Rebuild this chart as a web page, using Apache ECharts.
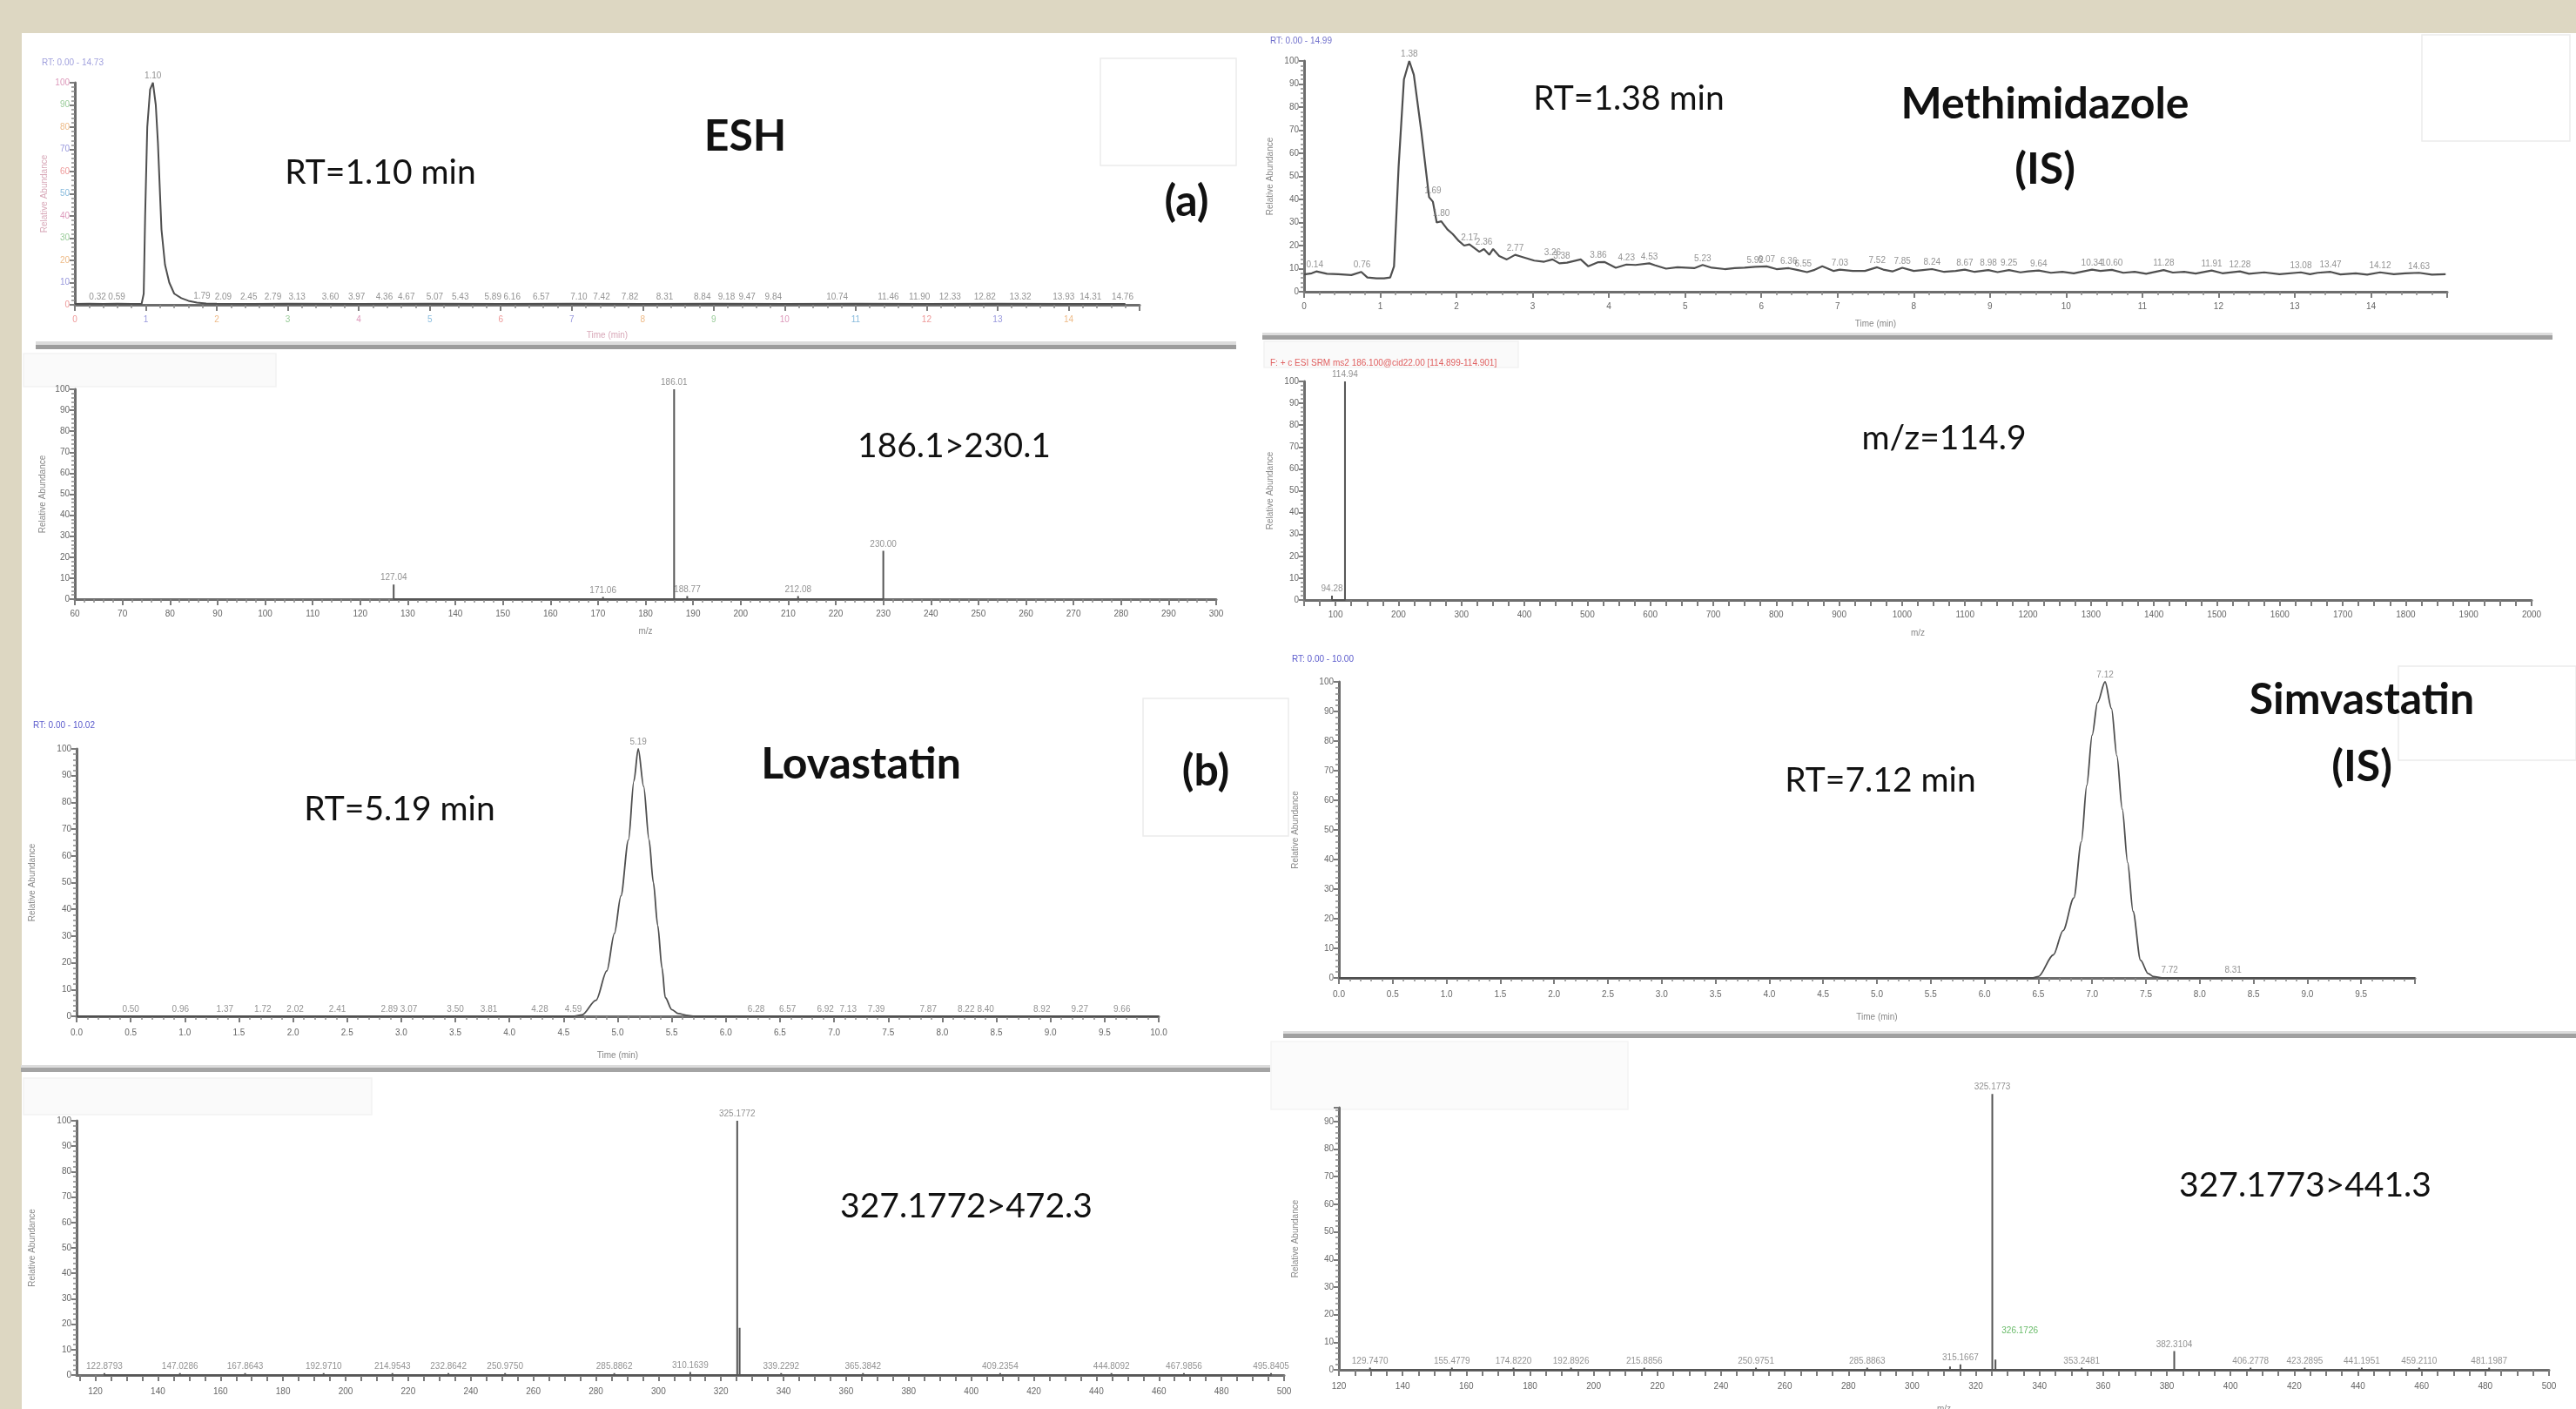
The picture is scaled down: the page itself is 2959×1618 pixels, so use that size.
<!DOCTYPE html>
<html><head><meta charset="utf-8">
<script src="https://cdn.jsdelivr.net/npm/echarts@6/dist/echarts.min.js"></script>
<style>
html,body{margin:0;padding:0;background:#ddd7c2;overflow:hidden;}
#paper{position:absolute;left:25px;top:38px;width:2934px;height:1580px;background:#fff;}
#chart{position:absolute;left:0;top:0;width:2959px;height:1618px;}
</style></head><body><div id="paper"></div><div id="chart"></div>
<script>
// ---------------- DATA ----------------
// (a) ESH chromatogram: [time min, relative abundance %]
const eshTrace = [[0,0.4],[0.2,0.5],[0.4,0.4],[0.6,0.5],[0.8,0.4],[0.94,0.4],[0.97,5],[0.99,40],[1.02,80],[1.06,97],[1.10,100],[1.14,90],[1.17,73],[1.22,34],[1.27,18],[1.33,10],[1.40,5],[1.50,3],[1.60,1.8],[1.72,1],[1.85,0.6],[2.0,0.5],[2.5,0.4],[3,0.5],[4,0.4],[5,0.5],[6,0.4],[7,0.5],[8,0.4],[9,0.5],[10,0.4],[11,0.5],[12,0.4],[13,0.5],[14,0.4],[14.8,0.4]];
const eshLabels = [[0.32,0.4],[0.59,0.5],[1.10,100],[1.79,0.8],[2.09,0.5],[2.45,0.4],[2.79,0.5],[3.13,0.4],[3.60,0.5],[3.97,0.4],[4.36,0.5],[4.67,0.4],[5.07,0.5],[5.43,0.4],[5.89,0.5],[6.16,0.4],[6.57,0.5],[7.10,0.4],[7.42,0.5],[7.82,0.4],[8.31,0.5],[8.84,0.4],[9.18,0.5],[9.47,0.4],[9.84,0.5],[10.74,0.4],[11.46,0.5],[11.90,0.4],[12.33,0.5],[12.82,0.4],[13.32,0.5],[13.93,0.4],[14.31,0.5],[14.76,0.4]];
// Methimidazole (IS) chromatogram
const methTrace = [[0,7.5],[0.1,8],[0.16,8.8],[0.3,7.8],[0.45,7.6],[0.62,7.2],[0.75,8.6],[0.83,6.2],[0.95,5.8],[1.05,5.8],[1.13,6.2],[1.18,11],[1.24,54],[1.31,92],[1.38,100],[1.44,94],[1.54,69],[1.64,41],[1.69,39],[1.74,30],[1.80,30.5],[1.88,27],[1.95,25],[2.03,22],[2.10,20],[2.17,20.5],[2.25,18.5],[2.30,17.3],[2.36,18.5],[2.43,16],[2.48,18.5],[2.56,15.5],[2.66,14],[2.77,16],[2.85,15.2],[3.02,13.5],[3.15,13],[3.26,14],[3.35,12.3],[3.45,12.6],[3.63,14],[3.73,11],[3.86,12.8],[3.94,12.9],[4.09,10.4],[4.23,11.8],[4.35,11.6],[4.53,12.3],[4.6,11.5],[4.75,10],[4.9,10.6],[5.01,10.4],[5.12,10.2],[5.23,11.6],[5.35,10.4],[5.52,9.8],[5.65,10.2],[5.78,10.4],[5.92,10.8],[6.07,11],[6.2,9.8],[6.36,10.2],[6.48,9.4],[6.6,8.5],[6.7,9.5],[6.8,11],[6.95,9],[7.03,9.6],[7.2,9],[7.36,9],[7.52,10.6],[7.6,9.6],[7.72,8.8],[7.85,10.4],[8.0,9],[8.12,9.4],[8.24,9.8],[8.4,8.6],[8.55,9],[8.67,9.6],[8.8,8.6],[8.98,9.4],[9.1,8.5],[9.25,9.4],[9.4,8.4],[9.5,8.8],[9.64,9.2],[9.8,8.2],[9.95,8.6],[10.1,8],[10.34,9.6],[10.45,9],[10.6,9.5],[10.75,8.2],[10.9,8.6],[11.05,7.8],[11.28,9.4],[11.4,8.3],[11.55,8.6],[11.7,7.9],[11.91,9.2],[12.05,8],[12.28,8.8],[12.4,7.8],[12.6,8.4],[12.8,7.6],[13.08,8.4],[13.2,7.6],[13.3,8.2],[13.47,8.6],[13.6,7.5],[13.8,8.0],[13.95,7.4],[14.12,8.4],[14.3,7.6],[14.45,8.0],[14.63,8.2],[14.8,7.4],[14.98,7.6]];
const methLabels = [[0.14,8.8],[0.76,8.6],[1.38,100],[1.69,41],[1.80,31],[2.17,20.5],[2.36,18.5],[2.77,16],[3.26,14],[3.38,12.5],[3.86,12.8],[4.23,11.8],[4.53,12.3],[5.23,11.6],[5.92,10.8],[6.07,11],[6.36,10.2],[6.55,9.2],[7.03,9.6],[7.52,10.6],[7.85,10.4],[8.24,9.8],[8.67,9.6],[8.98,9.4],[9.25,9.4],[9.64,9.2],[10.34,9.6],[10.60,9.5],[11.28,9.4],[11.91,9.2],[12.28,8.8],[13.08,8.4],[13.47,8.6],[14.12,8.4],[14.63,8.2]];
// ESH product-ion spectrum 186.1>230.1: [m/z, %]
const eshSpec = [[127.04,7],[171.06,1],[186.01,100],[188.77,1.5],[212.08,1.5],[230.00,23]];
// Methimidazole spectrum m/z=114.9
const methSpec = [[94.28,2],[114.94,100]];
// (b) Lovastatin chromatogram
const lovaTrace = [[0,0],[1,0],[2,0],[3,0],[4,0],[4.6,0],[4.67,0.5],[4.8,6],[4.9,17],[4.97,31],[5.03,45],[5.1,66],[5.15,88],[5.19,100],[5.24,86],[5.29,66],[5.33,50],[5.37,34],[5.41,18],[5.44,7],[5.5,2.5],[5.56,1],[5.65,0.3],[5.71,0],[7,0],[8,0],[9,0],[10,0]];
const lovaLabels = [[0.50,0],[0.96,0],[1.37,0],[1.72,0],[2.02,0],[2.41,0],[2.89,0],[3.07,0],[3.50,0],[3.81,0],[4.28,0],[4.59,0],[5.19,100],[6.28,0],[6.57,0],[6.92,0],[7.13,0],[7.39,0],[7.87,0],[8.22,0],[8.40,0],[8.92,0],[9.27,0],[9.66,0]];
// Simvastatin (IS) chromatogram
const simvaTrace = [[0,0],[1,0],[2,0],[3,0],[4,0],[5,0],[6,0],[6.45,0],[6.5,0.5],[6.64,7.8],[6.73,16],[6.83,27],[6.9,46],[6.95,65],[7.0,82],[7.05,93],[7.12,100],[7.18,91],[7.23,75],[7.28,57],[7.33,39],[7.38,22.5],[7.45,6],[7.52,1.5],[7.57,0.5],[7.65,0],[8,0],[9,0],[10,0]];
const simvaLabels = [[7.12,100],[7.72,0.4],[8.31,0.4]];
// Lovastatin spectrum 327.1772>472.3
const lovaSpec = [[122.8793,0.8],[147.0286,0.8],[167.8643,0.8],[192.9710,0.8],[214.9543,0.8],[232.8642,0.8],[250.9750,0.8],[285.8862,0.8],[310.1639,1.2],[325.1772,100],[339.2292,0.8],[365.3842,0.8],[409.2354,0.8],[444.8092,0.8],[467.9856,0.8],[495.8405,0.8]];
const lovaExtra = [[325.95,18.6]];
// Simvastatin spectrum 327.1773>441.3
const simvaSpec = [[129.7470,0.8],[155.4779,0.8],[174.8220,0.8],[192.8926,0.8],[215.8856,0.8],[250.9751,0.8],[285.8863,0.8],[315.1667,2],[325.1773,100],[326.1726,3.7],[353.2481,0.8],[382.3104,6.8],[406.2778,0.8],[423.2895,0.8],[441.1951,0.8],[459.2110,0.8],[481.1987,0.8]];
const simvaExtra = [[311.9,1.2]];
// tick labels
const mzTicks4 = [100,200,300,400,500,600,700,800,900,1000,1100,1200,1300,1400,1500,1600,1700,1800,1900,2000];
const mzTicks7 = [120,140,160,180,200,220,240,260,280,300,320,340,360,380,400,420,440,460,480,500];
const mzTicks8 = [120,140,160,180,200,220,240,260,280,300,320,340,360,380,400,420,440,460,480,500];
const abund8 = [0,10,20,30,40,50,60,70,80,90];

// ---------------- HELPERS ----------------
function merge(a,b){const o=Array.isArray(a)?a.slice():Object.assign({},a);for(const k in b){const v=b[k];if(v&&typeof v==='object'&&!Array.isArray(v)&&typeof v!=='function'&&a&&typeof a[k]==='object'&&!Array.isArray(a[k])){o[k]=merge(a[k],v);}else o[k]=v;}return o;}
const FF='Liberation Sans';
const plain=v=>String(v);
const baseAxis={type:'value',splitLine:{show:false},
  axisLine:{show:true,onZero:false,lineStyle:{color:'#6d6d6d',width:3}},
  axisTick:{show:true,length:7,lineStyle:{color:'#7c7c7c',width:2}},
  minorTick:{show:false,length:4,lineStyle:{color:'#8a8a8a',width:1.5}},
  axisLabel:{fontSize:10,color:'#666',margin:9,fontFamily:FF,formatter:plain},
  nameLocation:'middle',nameTextStyle:{fontSize:10,color:'#888',fontFamily:FF}};
function ax(o){return merge(baseAxis,o);}
const pastel=['#e99','#99d','#eb8','#9c9','#d9b','#8bd'];
function yAbund(gi,gap,extra){return ax(merge({gridIndex:gi,min:0,max:100,interval:10,name:'Relative Abundance',nameRotate:90,nameGap:gap,
  minorTick:{show:true,splitNumber:5},axisTick:{length:6},axisLabel:{margin:6}},extra||{}));}
function sticks(peaks){const s=peaks.slice().sort((a,b)=>a[0]-b[0]);const d=[];s.forEach(p=>{d.push([p[0],0],[p[0],p[1]],[p[0],0]);});return d;}
function trace(gi,data,smooth,w){return {type:'line',xAxisIndex:gi,yAxisIndex:gi,data:data,showSymbol:false,symbol:'none',smooth:smooth,smoothMonotone:'x',lineStyle:{color:'#4f4f4f',width:w||2},z:3,clip:false};}
function labels(gi,data,dec,extra){return merge({type:'scatter',xAxisIndex:gi,yAxisIndex:gi,data:data,symbol:'circle',symbolSize:1,clip:false,
  itemStyle:{color:'rgba(0,0,0,0)'},label:{show:true,position:'top',distance:2,fontSize:10,color:'#777',fontFamily:FF,formatter:p=>p.value[0].toFixed(dec)},z:4},extra||{});}
function stickSeries(gi,peaks,color){return {type:'line',xAxisIndex:gi,yAxisIndex:gi,data:sticks(peaks),showSymbol:false,symbol:'none',lineStyle:{color:color||'#555',width:2},z:3,clip:false};}

// ---------------- GRIDS ----------------
const grids=[
  {left:86,top:95,width:1223,height:255},
  {left:1498,top:70,width:1313,height:265},
  {left:86,top:447,width:1311,height:241},
  {left:1498,top:438,width:1410,height:251},
  {left:88,top:860,width:1243,height:307},
  {left:1538,top:783,width:1236,height:340},
  {left:88,top:1287,width:1387,height:292},
  {left:1538,top:1272,width:1390,height:301}
].map(g=>Object.assign({containLabel:false,outerBoundsMode:'none'},g));

const ticks7=[];mzTicks7.forEach(v=>{ticks7.push(v-15,v-10,v-5,v);});

const xAxes=[
  ax({gridIndex:0,min:0,max:15,interval:1,minorTick:{show:true,splitNumber:5},axisLabel:{showMaxLabel:false,color:(v,i)=>pastel[i%pastel.length],margin:12},name:'Time (min)',nameGap:30,nameTextStyle:{color:'#d8a8b8'}}),
  ax({gridIndex:1,min:0,max:15,interval:1,minorTick:{show:true,splitNumber:5},axisLabel:{showMaxLabel:false,margin:12},name:'Time (min)',nameGap:32}),
  ax({gridIndex:2,min:60,max:300,interval:10,minorTick:{show:true,splitNumber:5},axisLabel:{margin:12},name:'m/z',nameGap:32}),
  ax({gridIndex:3,min:50,max:2000,interval:25,axisLabel:{customValues:mzTicks4,margin:12},name:'m/z',nameGap:33}),
  ax({gridIndex:4,min:0,max:10,interval:0.5,minorTick:{show:true,splitNumber:5},axisLabel:{formatter:v=>v.toFixed(1),margin:14},name:'Time (min)',nameGap:40}),
  ax({gridIndex:5,min:0,max:10,interval:0.5,minorTick:{show:true,splitNumber:5},axisLabel:{formatter:v=>v.toFixed(1),showMaxLabel:false,margin:14},name:'Time (min)',nameGap:40}),
  ax({gridIndex:6,min:114,max:500,axisTick:{customValues:ticks7},axisLabel:{customValues:mzTicks7,margin:14},name:'m/z',nameGap:40}),
  ax({gridIndex:7,min:120,max:500,interval:5,axisLabel:{customValues:mzTicks8,margin:14},name:'m/z',nameGap:40})
];
const yAxes=[
  yAbund(0,30,{axisLabel:{color:(v,i)=>pastel[i%pastel.length]},nameTextStyle:{color:'#d8a8b8'}}),
  yAbund(1,34),
  yAbund(2,32),
  yAbund(3,34),
  yAbund(4,46),
  yAbund(5,45),
  yAbund(6,46),
  yAbund(7,45,{max:95,axisLabel:{customValues:abund8}})
];

const simvaLabelData=simvaSpec.map(p=>p[0]===326.1726?{value:p,label:{offset:[28,-26],color:'#4a4'}}:{value:p});

const series=[
  trace(0,eshTrace,false,2), labels(0,eshLabels,2),
  trace(1,methTrace,false,2.2), labels(1,methLabels,2),
  stickSeries(2,eshSpec), labels(2,eshSpec,2),
  stickSeries(3,methSpec), labels(3,methSpec,2),
  trace(4,lovaTrace,0.3,1.8), labels(4,lovaLabels,2),
  trace(5,simvaTrace,0.3,1.8), labels(5,simvaLabels,2),
  stickSeries(6,lovaSpec.concat(lovaExtra)), labels(6,lovaSpec,4),
  stickSeries(7,simvaSpec.concat(simvaExtra)), labels(7,simvaLabelData,4)
];

// ---------------- GRAPHICS (texts, separators, frames) ----------------
function txt(t,x,y,font,fill,align){return {type:'text',x:x,y:y,z:100,style:{text:t,font:font,fill:fill||'#111',textAlign:align||'center',textVerticalAlign:'middle',align:align||'center',verticalAlign:'middle'}};}
function rect(x,y,w,h,fill,stroke){return {type:'rect',z:-1,shape:{x:x,y:y,width:w,height:h},style:{fill:fill,stroke:stroke||null,lineWidth:1.5}};}
const TB='bold 50px Lato', TR='39px Lato';
const graphic=[
  // faint frames
  rect(1264,67,156,123,'#fff','#ececec'), rect(2782,40,170,122,'#fff','#ececec'),
  rect(1313,802,167,158,'#fff','#ececec'), rect(2755,765,204,108,'#fff','#ececec'),
  rect(27,406,290,38,'#fafafa','#f2f2f2'), rect(1452,392,292,30,'#fafafa','#f2f2f2'),
  rect(27,1238,400,42,'#fafafa','#f2f2f2'), rect(1460,1196,410,78,'#fbfbfb','#f4f4f4'),
  // separators
  rect(41,392,1379,4,'#dcdcdc'), rect(41,396,1379,5,'#9c9c9c'),
  rect(1450,382,1482,3,'#dcdcdc'), rect(1450,385,1482,5,'#a0a0a0'),
  rect(24,1223,1435,3,'#dcdcdc'), rect(24,1226,1435,5,'#a4a4a4'),
  rect(1474,1184,1485,3,'#dcdcdc'), rect(1474,1187,1485,5,'#a0a0a0'),
  // headers
  txt('RT: 0.00 - 14.73',48,72,'10px "Liberation Sans"','#a0a0dd','left'),
  txt('RT: 0.00 - 14.99',1459,47,'10px "Liberation Sans"','#7070cc','left'),
  txt('F: + c ESI SRM ms2 186.100@cid22.00 [114.899-114.901]',1459,417,'10px "Liberation Sans"','#e06060','left'),
  txt('RT: 0.00 - 10.02',38,833,'10px "Liberation Sans"','#5a5acc','left'),
  txt('RT: 0.00 - 10.00',1484,757,'10px "Liberation Sans"','#5a5acc','left'),
  // annotations
  txt('RT=1.10 min',437,198,TR), txt('ESH',856,157,TB), txt('(a)',1363,232,TB),
  txt('RT=1.38 min',1871,113,TR), txt('Methimidazole',2349,120,TB), txt('(IS)',2349,195,TB),
  txt('186.1>230.1',1096,512,TR), txt('m/z=114.9',2233,503,TR),
  txt('RT=5.19 min',459,929,TR), txt('Lovastatin',989,878,TB), txt('(b)',1385,886,TB),
  txt('RT=7.12 min',2160,896,TR), txt('Simvastatin',2713,804,TB), txt('(IS)',2713,881,TB),
  txt('327.1772>472.3',1110,1385,TR), txt('327.1773>441.3',2648,1361,TR)
];

const chart=echarts.init(document.getElementById('chart'),null,{renderer:'canvas',width:2959,height:1618});
chart.setOption({animation:false,backgroundColor:'transparent',grid:grids,xAxis:xAxes,yAxis:yAxes,series:series,graphic:{elements:graphic}});
</script></body></html>
